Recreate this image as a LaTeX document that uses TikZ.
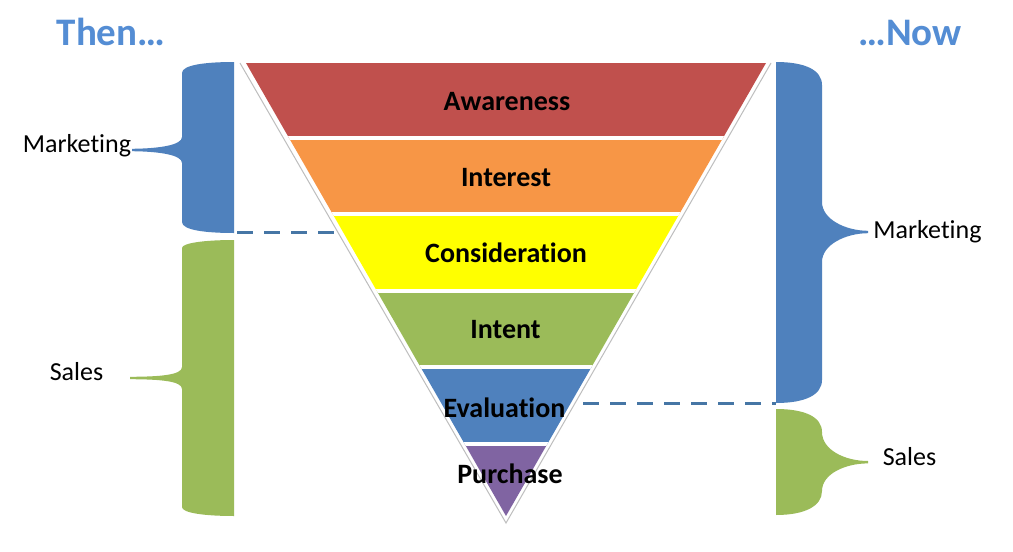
\documentclass[tikz,border=0pt]{standalone}
\usepackage{fontspec}
\setmainfont{Carlito}[Ligatures={NoCommon}]
\definecolor{cRed}{HTML}{C0504D}
\definecolor{cOrange}{HTML}{F79646}
\definecolor{cYellow}{HTML}{FFFF00}
\definecolor{cGreen}{HTML}{9BBB59}
\definecolor{cBlue}{HTML}{4F81BD}
\definecolor{cPurple}{HTML}{8064A2}
\definecolor{cTitle}{HTML}{548DD4}
\definecolor{cDash}{RGB}{70,118,165}
\definecolor{cEdge}{RGB}{190,190,190}
\begin{document}
\begin{tikzpicture}[x=1pt,y=-1pt,
  bandlabel/.style={font=\fontsize{28}{33}\selectfont\bfseries, inner sep=0pt, anchor=base, text=black},
  sidelabel/.style={font=\fontsize{26}{31}\selectfont, inner sep=0pt, anchor=base, text=black},
  titlelabel/.style={font=\fontsize{39}{45}\selectfont\bfseries, inner sep=0pt, anchor=base, text=cTitle},
  divider/.style={cDash, line width=3pt, dash pattern=on 16pt off 11pt},
  sep/.style={white, line width=4pt},
  edge/.style={cEdge, line width=1pt}]
\useasboundingbox (0,0) rectangle (1013,552);
\fill[white] (0,0) rectangle (1013,552);

% funnel bands
\begin{scope}
  \clip (246,63) -- (766,63) -- (506,516) -- cycle;
  \fill[cRed] (200,60) rectangle (820,138);
  \fill[cOrange] (200,138) rectangle (820,214);
  \fill[cYellow] (200,214) rectangle (820,291);
  \fill[cGreen] (200,291) rectangle (820,367);
  \fill[cBlue] (200,367) rectangle (820,443.5);
  \fill[cPurple] (200,443.5) rectangle (820,530);
  \foreach \yy in {138,214,291,367,443.5}
    \draw[sep] (200,\yy) -- (820,\yy);
\end{scope}
\draw[edge] (240,63) -- (506,523) -- (771,63);

% band labels
\node[bandlabel] (aw) at (507,110) {Awareness};
\node[bandlabel] (in) at (506,186) {Interest};
\node[bandlabel] (co) at (506,262) {Consideration};
\node[bandlabel] (it) at (505.5,338) {Intent};
\node[bandlabel] (ev) at (504.5,417) {Evaluation};
\node[bandlabel] (pu) at (510,483) {Purchase};

% titles
\node[titlelabel] (then) at (111,45) {Then…};
\node[titlelabel] (now) at (910,45) {…Now};

% left brackets (Then)
\fill[cBlue] (234,62) -- (234,233) .. controls (205,233) and (182,230) .. (182,222)
  -- (182,163) .. controls (182,155) and (160,151.5) .. (132,151.2)
  -- (132,148.8) .. controls (160,148.5) and (182,145) .. (182,137)
  -- (182,73) .. controls (182,65) and (205,62) .. (234,62) -- cycle;
\fill[cGreen] (234,240) -- (234,516) .. controls (205,516) and (182,513) .. (182,507)
  -- (182,389) .. controls (182,381) and (160,379.3) .. (130,379.2)
  -- (130,376.8) .. controls (160,376.7) and (182,375) .. (182,367)
  -- (182,248) .. controls (182,243) and (205,240) .. (234,240) -- cycle;

% right brackets (Now)
\fill[cBlue] (776,62) -- (776,403) .. controls (805,403) and (822,395) .. (822,380)
  -- (822,262) .. controls (822,245) and (845,233.3) .. (868,233.2)
  -- (868,230.8) .. controls (845,230.7) and (822,219) .. (822,202)
  -- (822,85) .. controls (822,70) and (805,62) .. (776,62) -- cycle;
\fill[cGreen] (776,409) .. controls (805,409) and (822,417) .. (822,432)
  .. controls (822,450) and (845,461) .. (868,461)
  -- (868,463.4) .. controls (845,463.4) and (822,474) .. (822,491)
  .. controls (822,506) and (805,515) .. (776,515) -- cycle;

% side labels
\node[sidelabel] (mkL) at (77,152) {Marketing};
\node[sidelabel] (saL) at (76.5,380) {Sales};
\node[sidelabel] (mkR) at (927.5,238) {Marketing};
\node[sidelabel] (saR) at (909.5,465) {Sales};

% dashed dividers
\coordinate (thenSplitB) at (237,232);
\coordinate (thenSplitF) at (343,232);
\coordinate (nowSplitF) at (583,403);
\coordinate (nowSplitB) at (776,403);
\draw[divider] (thenSplitB) -- (thenSplitF);
\draw[divider] (nowSplitF) -- (nowSplitB);
\end{tikzpicture}
\end{document}
